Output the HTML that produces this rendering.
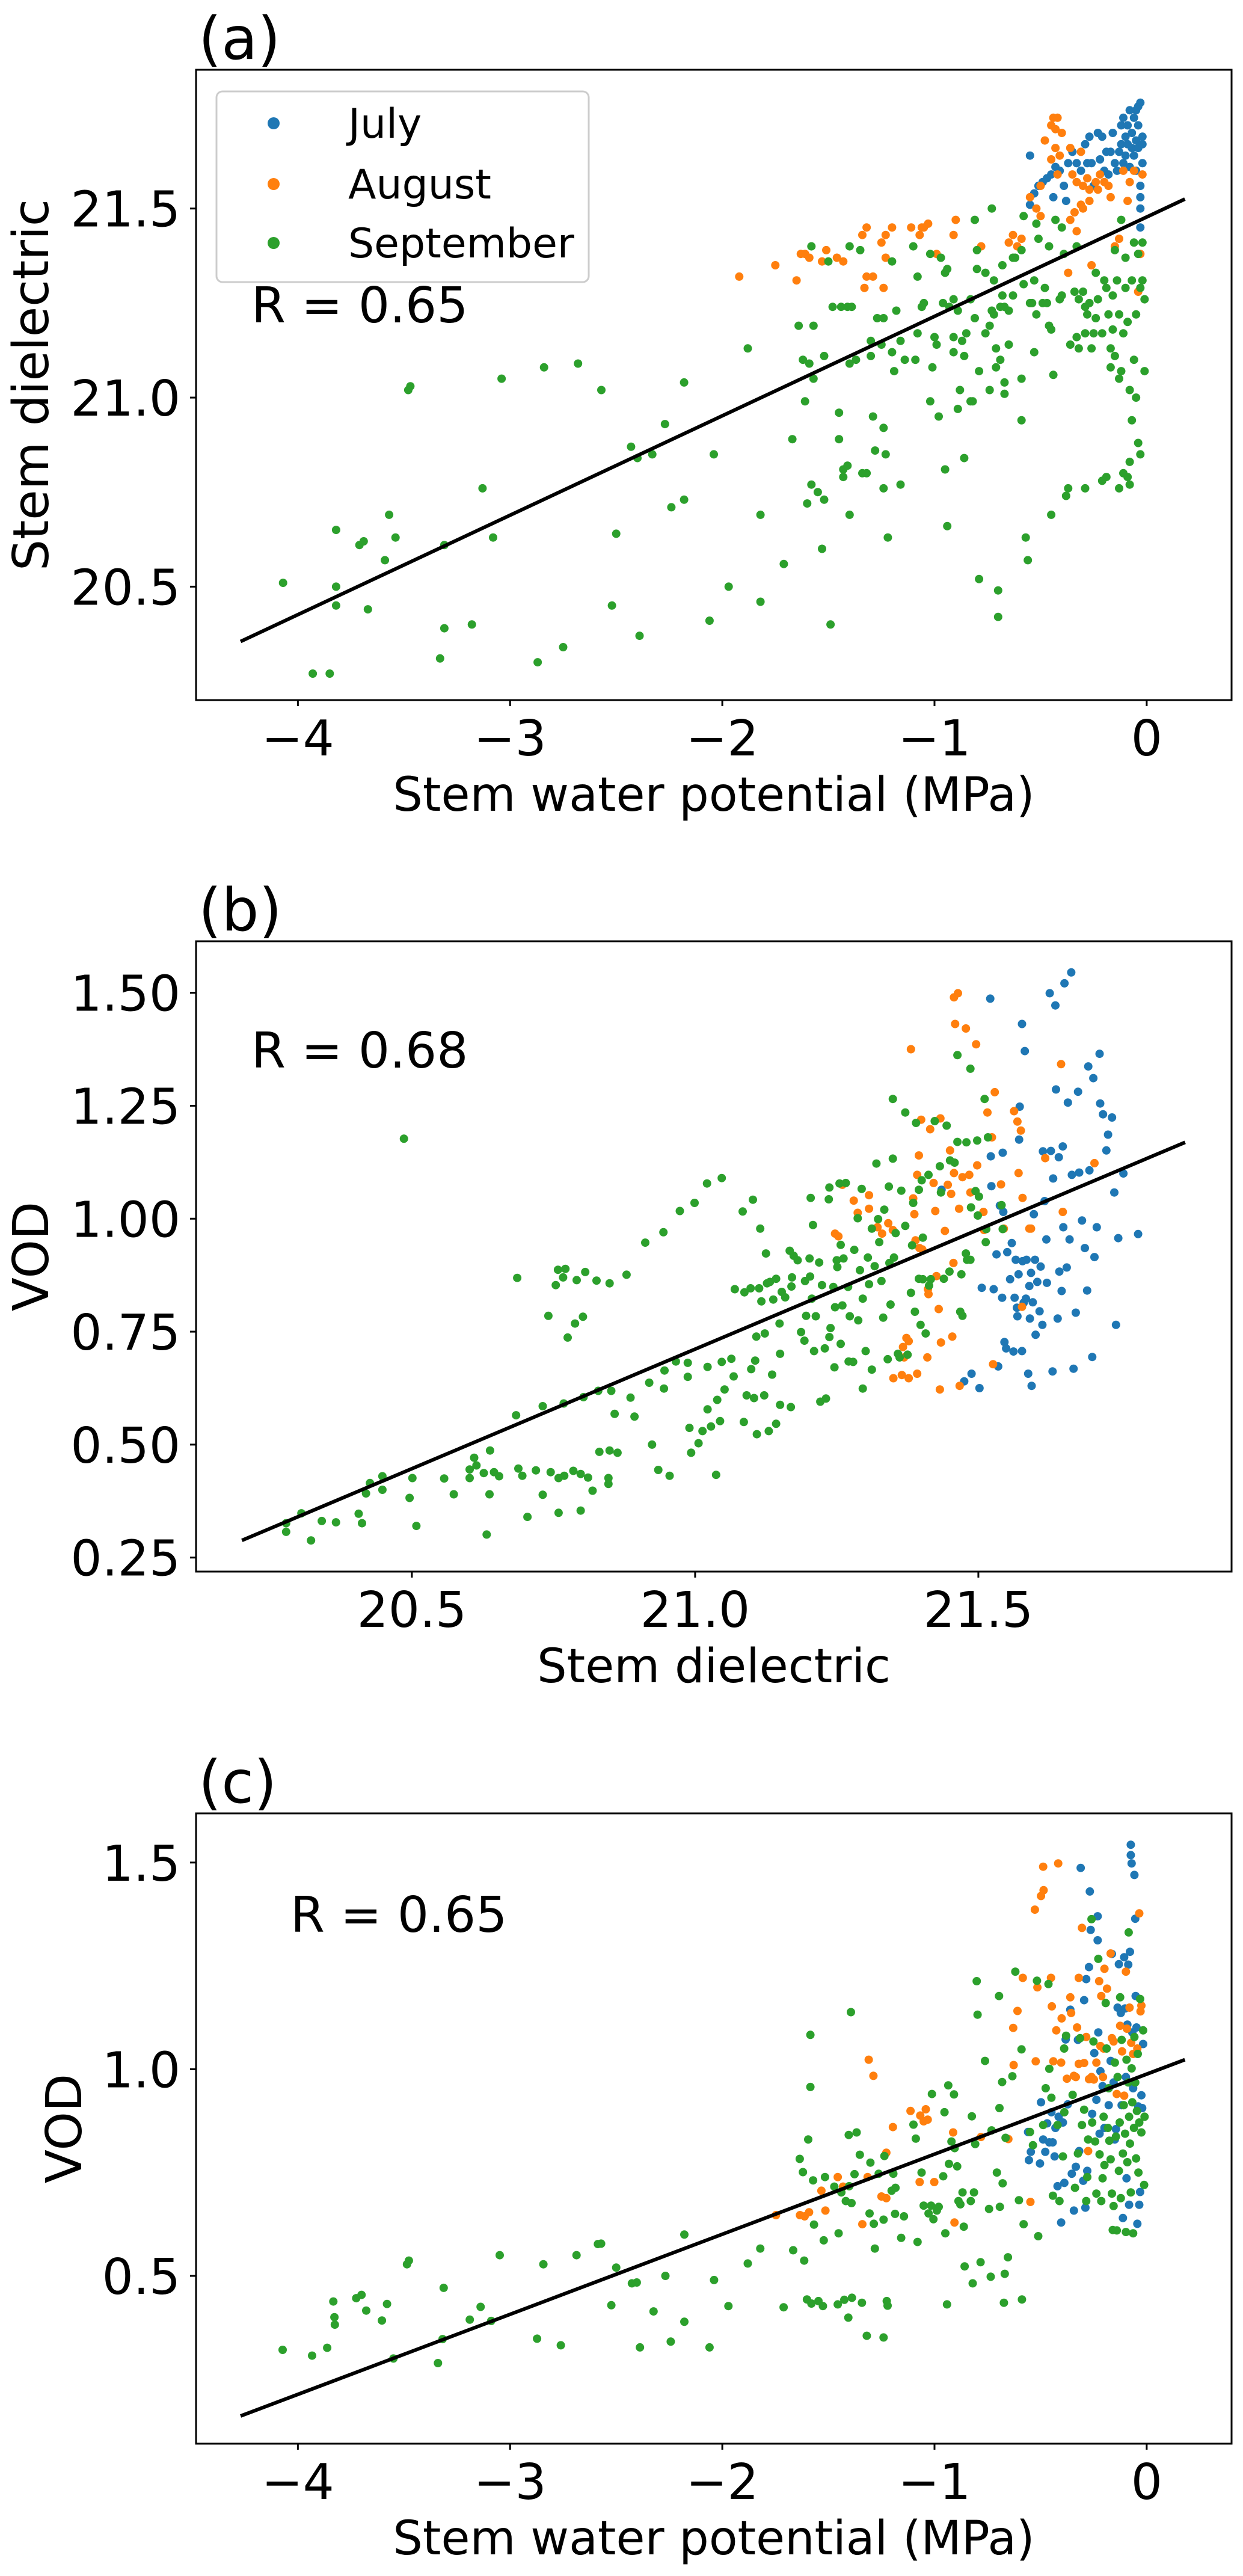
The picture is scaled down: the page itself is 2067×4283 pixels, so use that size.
<!DOCTYPE html>
<html><head><meta charset="utf-8"><style>
html,body{margin:0;padding:0;background:#fff;}
svg{display:block;font-family:"DejaVu Sans","Liberation Sans",sans-serif;}
</style></head><body>
<svg id="fig" width="2067" height="4283" viewBox="0 0 2067 4283" xmlns="http://www.w3.org/2000/svg">
<rect width="2067" height="4283" fill="#fff"/>
</svg>
<script>
// ---------- Panel (a): Stem water potential vs stem dielectric ----------
const aJulyX=[-0.55,-0.55,-0.53,-0.51,-0.49,-0.47,-0.45,-0.44,-0.43,-0.41,-0.39,-0.38,-0.37,-0.35,-0.33,-0.31,-0.29,-0.28,-0.27,-0.26,-0.25,-0.23,-0.22,-0.21,-0.20,-0.19,-0.18,-0.17,-0.16,-0.15,-0.14,-0.13,-0.12,-0.12,-0.11,-0.11,-0.10,-0.10,-0.09,-0.09,-0.08,-0.08,-0.07,-0.07,-0.06,-0.06,-0.05,-0.05,-0.05,-0.04,-0.04,-0.04,-0.03,-0.03,-0.03,-0.03,-0.02,-0.02,-0.02,-0.03];
const aJulyY=[21.64,21.51,21.54,21.56,21.57,21.58,21.59,21.53,21.61,21.60,21.56,21.52,21.62,21.65,21.62,21.60,21.67,21.62,21.69,21.62,21.56,21.70,21.63,21.69,21.60,21.65,21.59,21.65,21.70,21.62,21.60,21.65,21.72,21.67,21.62,21.74,21.69,21.64,21.72,21.67,21.76,21.61,21.70,21.66,21.74,21.64,21.76,21.68,21.60,21.72,21.66,21.77,21.50,21.56,21.53,21.78,21.69,21.67,21.62,21.45];
const aAugX=[-1.92,-1.75,-1.65,-1.63,-1.61,-1.59,-1.53,-1.51,-1.46,-1.43,-1.34,-1.33,-1.32,-1.32,-1.29,-1.25,-1.24,-1.23,-1.23,-1.20,-1.11,-1.07,-1.06,-1.05,-1.03,-0.99,-0.91,-0.90,-0.78,-0.65,-0.63,-0.61,-0.59,-0.55,-0.52,-0.50,-0.50,-0.48,-0.45,-0.45,-0.44,-0.43,-0.43,-0.42,-0.42,-0.40,-0.41,-0.37,-0.36,-0.36,-0.35,-0.34,-0.33,-0.33,-0.31,-0.31,-0.30,-0.30,-0.28,-0.27,-0.27,-0.26,-0.24,-0.23,-0.22,-0.20,-0.18,-0.17,-0.15,-0.13,-0.11,-0.09,-0.08,-0.06,-0.04,-0.03,-0.02];
const aAugY=[21.32,21.35,21.31,21.38,21.38,21.37,21.36,21.39,21.37,21.36,21.43,21.29,21.45,21.32,21.32,21.41,21.29,21.43,21.37,21.45,21.45,21.43,21.45,21.45,21.46,21.38,21.43,21.47,21.40,21.41,21.43,21.40,21.42,21.53,21.50,21.48,21.56,21.68,21.63,21.72,21.74,21.71,21.66,21.74,21.59,21.70,21.64,21.33,21.66,21.47,21.59,21.49,21.57,21.44,21.51,21.65,21.56,21.50,21.58,21.55,21.52,21.35,21.57,21.55,21.59,21.57,21.56,21.53,21.40,21.42,21.60,21.52,21.57,21.60,21.28,21.38,21.59];
const aSepX=[-4.07,-3.93,-3.85,-3.82,-3.82,-3.82,-3.71,-3.69,-3.67,-3.59,-3.57,-3.54,-3.48,-3.47,-3.33,-3.31,-3.31,-3.18,-3.13,-3.08,-3.04,-2.87,-2.84,-2.75,-2.68,-2.57,-2.52,-2.50,-2.43,-2.40,-2.39,-2.33,-2.27,-2.24,-2.18,-2.18,-2.06,-2.04,-1.97,-1.88,-1.82,-1.82,-1.71,-1.67,-1.64,-1.62,-1.61,-1.60,-1.59,-1.58,-1.58,-1.57,-1.57,-1.55,-1.53,-1.52,-1.52,-1.50,-1.49,-1.48,-1.45,-1.45,-1.44,-1.43,-1.43,-1.41,-1.41,-1.40,-1.40,-1.40,-1.39,-1.37,-1.35,-1.34,-1.32,-1.30,-1.30,-1.29,-1.28,-1.27,-1.25,-1.24,-1.24,-1.24,-1.23,-1.22,-1.20,-1.20,-1.19,-1.18,-1.16,-1.16,-1.14,-1.10,-1.09,-1.08,-1.08,-1.06,-1.05,-1.02,-1.02,-1.01,-1.00,-0.99,-0.98,-0.97,-0.96,-0.95,-0.95,-0.94,-0.94,-0.93,-0.91,-0.91,-0.91,-0.89,-0.89,-0.88,-0.87,-0.86,-0.86,-0.85,-0.83,-0.83,-0.82,-0.81,-0.81,-0.80,-0.80,-0.79,-0.79,-0.76,-0.76,-0.74,-0.74,-0.73,-0.73,-0.72,-0.72,-0.71,-0.71,-0.70,-0.70,-0.69,-0.69,-0.68,-0.68,-0.67,-0.67,-0.67,-0.65,-0.65,-0.63,-0.63,-0.62,-0.59,-0.59,-0.59,-0.58,-0.58,-0.57,-0.56,-0.55,-0.54,-0.53,-0.53,-0.52,-0.52,-0.51,-0.49,-0.48,-0.47,-0.46,-0.46,-0.45,-0.45,-0.44,-0.43,-0.41,-0.40,-0.40,-0.39,-0.38,-0.37,-0.36,-0.34,-0.33,-0.33,-0.32,-0.32,-0.30,-0.29,-0.29,-0.29,-0.28,-0.27,-0.26,-0.25,-0.24,-0.24,-0.23,-0.21,-0.21,-0.20,-0.19,-0.19,-0.18,-0.17,-0.17,-0.16,-0.16,-0.15,-0.15,-0.14,-0.13,-0.13,-0.13,-0.12,-0.12,-0.11,-0.11,-0.10,-0.10,-0.09,-0.09,-0.08,-0.08,-0.08,-0.07,-0.07,-0.06,-0.06,-0.05,-0.05,-0.04,-0.04,-0.03,-0.03,-0.02,-0.02,-0.01,-0.01];
const aSepY=[20.51,20.27,20.27,20.65,20.50,20.45,20.61,20.62,20.44,20.57,20.69,20.63,21.02,21.03,20.31,20.39,20.61,20.40,20.76,20.63,21.05,20.30,21.08,20.34,21.09,21.02,20.45,20.64,20.87,20.84,20.37,20.85,20.93,20.71,21.04,20.73,20.41,20.85,20.50,21.13,20.46,20.69,20.56,20.89,21.19,21.10,20.99,20.72,21.09,21.40,20.77,21.19,21.05,20.75,20.60,20.73,21.11,21.36,20.40,21.24,20.96,20.89,21.24,20.81,20.79,21.24,20.82,21.09,21.40,20.69,21.24,21.10,21.39,20.80,20.80,21.15,21.11,20.95,20.86,21.21,21.14,20.76,20.92,21.21,20.85,20.63,21.36,21.12,21.07,21.23,21.15,20.77,21.10,21.40,21.10,21.32,21.17,21.24,21.25,20.99,21.38,21.08,21.16,21.14,20.95,21.37,21.25,21.33,20.81,20.66,21.34,21.24,21.16,21.26,21.12,21.23,20.97,21.02,21.15,20.84,21.11,21.17,20.99,21.26,20.99,21.21,21.47,21.39,21.34,20.52,21.07,21.33,21.17,21.19,21.02,21.50,21.23,21.22,21.31,21.13,21.08,20.49,20.42,21.10,21.24,21.35,21.27,21.04,21.01,21.24,21.14,21.23,21.37,21.27,21.37,21.05,20.94,21.39,21.48,21.30,20.63,20.57,21.25,21.25,21.31,21.12,21.46,21.22,21.42,21.25,21.29,21.25,21.19,21.40,20.69,21.18,21.06,21.47,21.26,21.27,21.45,21.38,20.74,20.76,21.14,21.28,21.16,21.40,21.26,21.13,21.28,21.24,20.76,21.17,21.22,21.25,21.13,21.17,21.21,21.33,21.26,21.17,20.78,21.31,20.79,21.29,21.22,21.08,21.13,21.27,21.18,21.39,21.11,21.31,20.76,21.05,21.22,21.47,21.07,20.80,21.17,21.29,21.37,20.79,21.20,20.77,20.83,21.02,20.94,21.31,21.10,21.41,21.00,21.22,20.88,21.38,20.85,21.29,21.31,21.41,21.26,21.07];
const aLineX=[-4.27,0.18];
const aLineY=[20.355,21.525];
const aXTicks=[-4,-3,-2,-1,0];
const aYTicks=[20.5,21.0,21.5];

// ---------- Panel (b): Stem dielectric vs VOD ----------
const bJulyX=[21.435,21.475,21.488,21.502,21.506,21.521,21.522,21.523,21.527,21.532,21.535,21.538,21.542,21.543,21.544,21.546,21.549,21.551,21.556,21.559,21.562,21.564,21.566,21.568,21.569,21.571,21.572,21.573,21.577,21.577,21.578,21.580,21.582,21.584,21.585,21.588,21.590,21.591,21.593,21.594,21.596,21.598,21.600,21.601,21.604,21.608,21.610,21.613,21.614,21.617,21.620,21.621,21.626,21.628,21.631,21.632,21.636,21.637,21.640,21.642,21.643,21.647,21.649,21.650,21.652,21.656,21.658,21.661,21.664,21.665,21.668,21.672,21.676,21.678,21.683,21.688,21.692,21.694,21.696,21.701,21.703,21.705,21.709,21.714,21.715,21.720,21.726,21.729,21.736,21.740,21.743,21.747,21.756,21.782];
const bJulyY=[1.064,0.640,0.657,0.625,0.847,1.487,1.138,1.072,0.844,0.921,0.673,1.029,0.825,1.146,1.015,0.727,0.713,0.926,0.866,0.946,0.706,0.825,0.909,0.803,0.784,0.877,1.175,1.248,1.431,0.707,0.906,0.814,1.371,0.823,0.909,0.657,0.851,0.779,0.880,0.630,0.815,1.010,0.909,0.743,0.860,0.795,0.894,0.765,1.149,1.039,0.954,0.858,1.499,1.150,0.662,1.089,1.472,1.286,0.779,1.136,0.883,0.840,1.160,0.981,1.521,0.892,1.257,0.954,1.545,1.097,0.668,0.792,1.281,1.102,0.996,0.935,0.841,1.337,1.107,0.694,1.311,0.915,0.981,1.365,1.255,1.231,1.151,1.186,1.224,1.058,0.765,0.957,1.100,0.966];
const bAugX=[21.247,21.253,21.260,21.280,21.287,21.307,21.307,21.322,21.330,21.341,21.349,21.350,21.365,21.367,21.369,21.373,21.377,21.377,21.381,21.385,21.387,21.389,21.392,21.392,21.395,21.396,21.399,21.401,21.410,21.411,21.412,21.415,21.421,21.424,21.426,21.430,21.432,21.433,21.434,21.441,21.446,21.450,21.452,21.454,21.456,21.457,21.457,21.459,21.464,21.466,21.467,21.472,21.478,21.484,21.486,21.496,21.498,21.509,21.510,21.516,21.524,21.529,21.526,21.540,21.545,21.563,21.569,21.571,21.575,21.577,21.578,21.590,21.593,21.618,21.646,21.649,21.705];
const bAugY=[0.967,0.961,1.075,1.040,1.013,1.022,1.052,0.981,0.967,0.990,0.975,0.647,0.654,0.716,0.693,0.736,0.647,0.729,1.375,1.045,1.010,0.952,0.657,1.097,1.140,0.935,1.219,0.932,0.693,0.844,0.833,1.198,1.079,1.017,0.873,0.800,0.622,1.222,0.726,0.973,1.075,1.151,1.055,0.739,0.902,1.490,1.101,1.431,1.499,1.022,0.630,1.092,1.421,1.097,1.058,1.386,1.118,1.015,0.975,1.235,1.180,1.280,0.678,1.076,0.978,1.238,1.215,1.101,1.195,0.805,1.046,0.978,0.978,1.134,1.342,1.015,1.123];
const bSepX=[20.278,20.278,20.305,20.322,20.341,20.366,20.406,20.412,20.419,20.426,20.448,20.448,20.486,20.496,20.501,20.508,20.557,20.574,20.602,20.602,20.610,20.614,20.627,20.632,20.637,20.638,20.645,20.654,20.684,20.686,20.688,20.695,20.704,20.719,20.731,20.731,20.741,20.745,20.754,20.758,20.759,20.759,20.767,20.768,20.769,20.771,20.775,20.785,20.788,20.791,20.798,20.798,20.802,20.803,20.806,20.811,20.819,20.831,20.829,20.826,20.852,20.849,20.847,20.847,20.863,20.858,20.849,20.879,20.886,20.893,20.912,20.919,20.924,20.935,20.944,20.945,20.946,20.955,20.966,20.973,20.987,20.987,20.990,20.993,20.999,21.006,21.013,21.021,21.022,21.022,21.028,21.037,21.039,21.044,21.047,21.047,21.052,21.064,21.068,21.070,21.084,21.086,21.087,21.091,21.098,21.099,21.102,21.104,21.106,21.108,21.109,21.113,21.115,21.117,21.122,21.123,21.125,21.127,21.130,21.132,21.136,21.138,21.143,21.143,21.149,21.150,21.150,21.153,21.159,21.167,21.169,21.170,21.171,21.174,21.181,21.187,21.193,21.194,21.196,21.202,21.203,21.204,21.206,21.208,21.210,21.213,21.219,21.221,21.224,21.229,21.231,21.236,21.237,21.237,21.239,21.244,21.246,21.247,21.250,21.251,21.255,21.257,21.257,21.260,21.262,21.266,21.270,21.271,21.273,21.279,21.281,21.287,21.288,21.291,21.294,21.296,21.296,21.301,21.305,21.307,21.312,21.312,21.317,21.320,21.323,21.325,21.329,21.332,21.334,21.340,21.342,21.343,21.345,21.349,21.349,21.351,21.354,21.358,21.361,21.364,21.371,21.371,21.375,21.381,21.383,21.385,21.388,21.390,21.395,21.395,21.398,21.400,21.402,21.402,21.407,21.412,21.413,21.416,21.423,21.432,21.434,21.439,21.444,21.449,21.450,21.458,21.463,21.463,21.468,21.470,21.472,21.478,21.479,21.480,21.486,21.486,21.487,21.495,21.498,21.499,21.501,21.511,21.513,21.514,21.517,21.541,21.543];
const bSepY=[0.326,0.307,0.348,0.288,0.331,0.328,0.347,0.326,0.392,0.415,0.430,0.400,1.177,0.382,0.426,0.320,0.425,0.390,0.426,0.445,0.471,0.454,0.437,0.301,0.390,0.487,0.439,0.430,0.565,0.869,0.447,0.431,0.340,0.443,0.585,0.389,0.785,0.439,0.853,0.887,0.349,0.426,0.870,0.591,0.431,0.889,0.737,0.442,0.768,0.864,0.435,0.354,0.783,0.605,0.882,0.427,0.398,0.484,0.619,0.863,0.619,0.487,0.426,0.413,0.482,0.568,0.857,0.876,0.604,0.562,0.947,0.637,0.500,0.444,0.970,0.624,0.664,0.431,0.684,1.017,0.650,0.681,0.537,0.482,1.035,0.503,0.530,1.078,0.578,0.672,0.540,0.433,0.599,0.552,1.090,0.683,0.622,0.690,0.651,0.844,1.016,0.550,0.837,0.609,0.846,0.667,1.042,0.603,0.686,0.739,0.523,0.846,0.978,0.817,0.609,0.746,0.923,0.857,0.530,0.860,0.655,0.821,0.546,0.867,0.768,0.701,0.588,0.838,0.826,0.929,0.583,0.850,0.870,0.918,0.908,0.749,0.730,0.862,0.785,0.912,0.872,1.046,0.823,0.986,0.707,0.784,0.903,0.595,0.853,0.713,0.602,1.043,1.069,0.738,0.758,0.849,0.671,0.804,0.908,0.893,1.078,0.942,0.723,0.808,0.912,1.079,0.849,0.684,0.784,0.683,0.931,1.001,0.775,0.886,1.066,0.823,0.624,0.707,0.914,0.855,0.978,0.666,0.895,1.122,0.999,0.948,0.862,0.781,1.020,0.689,1.071,0.902,0.810,1.265,1.133,0.914,0.968,0.701,0.693,1.062,0.984,1.235,0.699,0.836,0.941,1.035,0.794,1.212,1.064,0.867,0.765,1.085,0.958,0.866,0.746,1.097,0.852,0.866,1.216,1.116,1.058,0.867,1.206,0.883,1.129,1.124,1.362,1.170,0.794,0.877,0.785,0.923,1.169,0.909,1.332,0.909,1.025,1.061,1.173,1.007,1.049,1.265,0.948,0.977,1.180,1.030,0.977];
const bLineX=[20.2,21.865];
const bLineY=[0.288,1.169];
const bXTicks=[20.5,21.0,21.5];
const bYTicks=[0.25,0.50,0.75,1.00,1.25,1.50];

// ---------- Panel (c): Stem water potential vs VOD ----------
const cJulyX=[-0.559,-0.555,-0.546,-0.503,-0.498,-0.488,-0.478,-0.469,-0.459,-0.449,-0.443,-0.434,-0.430,-0.420,-0.415,-0.403,-0.395,-0.388,-0.382,-0.372,-0.360,-0.353,-0.343,-0.334,-0.324,-0.318,-0.311,-0.299,-0.295,-0.289,-0.285,-0.280,-0.272,-0.268,-0.264,-0.257,-0.247,-0.237,-0.231,-0.231,-0.228,-0.222,-0.218,-0.208,-0.199,-0.179,-0.170,-0.164,-0.156,-0.150,-0.145,-0.137,-0.131,-0.122,-0.118,-0.112,-0.106,-0.102,-0.098,-0.095,-0.091,-0.087,-0.083,-0.079,-0.075,-0.075,-0.071,-0.068,-0.064,-0.058,-0.054,-0.052,-0.048,-0.044,-0.040,-0.035,-0.031,-0.025,-0.021,-0.017];
const cJulyY=[0.848,0.780,0.800,0.772,0.920,0.830,0.800,0.869,0.823,0.896,0.823,0.789,0.858,0.717,0.885,0.629,0.871,0.725,1.072,0.915,1.144,0.747,0.658,0.764,1.071,0.802,1.487,0.730,1.167,0.665,1.218,0.754,1.247,1.430,1.337,0.892,1.039,0.926,1.312,1.370,1.089,0.844,0.995,0.959,0.858,0.913,1.020,1.279,0.968,0.830,0.855,1.149,1.254,1.136,0.913,0.640,1.271,1.147,0.981,0.736,1.108,1.253,0.672,1.284,1.543,1.518,1.498,1.089,0.954,1.470,1.364,1.177,1.101,0.626,0.910,0.672,0.703,0.937,0.906,1.061];
const cAugX=[-1.747,-1.634,-1.612,-1.591,-1.533,-1.514,-1.456,-1.431,-1.340,-1.315,-1.310,-1.288,-1.250,-1.227,-1.227,-1.196,-1.113,-1.070,-1.067,-1.051,-1.041,-1.032,-1.001,-0.912,-0.906,-0.781,-0.652,-0.629,-0.627,-0.609,-0.584,-0.548,-0.523,-0.515,-0.527,-0.498,-0.486,-0.488,-0.451,-0.447,-0.440,-0.426,-0.417,-0.401,-0.403,-0.376,-0.360,-0.356,-0.343,-0.334,-0.328,-0.320,-0.320,-0.305,-0.295,-0.285,-0.276,-0.272,-0.260,-0.249,-0.237,-0.224,-0.218,-0.214,-0.206,-0.203,-0.199,-0.187,-0.170,-0.164,-0.156,-0.141,-0.125,-0.116,-0.106,-0.098,-0.093,-0.081,-0.073,-0.064,-0.044,-0.035,-0.029,-0.025];
const cAugY=[0.647,0.647,0.644,0.654,0.706,0.658,0.739,0.716,0.625,0.739,1.023,0.984,0.692,0.688,0.798,0.860,0.899,0.727,0.888,0.874,0.903,0.878,0.727,0.847,0.629,0.836,0.831,1.100,1.010,1.141,1.221,0.679,1.019,1.198,1.386,1.419,1.433,1.490,1.221,1.152,1.019,1.094,1.498,1.123,1.016,0.977,1.174,1.136,0.984,0.981,1.101,1.221,1.013,1.342,1.015,1.078,0.802,0.976,0.981,0.975,1.016,1.213,1.056,1.177,0.981,1.050,1.243,1.195,1.280,1.075,1.067,0.940,1.105,1.043,0.936,1.236,1.098,1.149,1.064,1.037,1.050,1.377,1.140,1.154];
const cSepX=[-4.072,-3.933,-3.862,-3.833,-3.828,-3.826,-3.725,-3.700,-3.678,-3.604,-3.580,-3.550,-3.486,-3.477,-3.340,-3.318,-3.313,-3.190,-3.139,-3.089,-3.049,-2.873,-2.843,-2.761,-2.687,-2.586,-2.571,-2.523,-2.500,-2.426,-2.403,-2.388,-2.324,-2.268,-2.243,-2.179,-2.179,-2.060,-2.039,-1.971,-1.880,-1.821,-1.711,-1.666,-1.635,-1.620,-1.614,-1.601,-1.595,-1.585,-1.585,-1.580,-1.572,-1.568,-1.547,-1.526,-1.522,-1.516,-1.472,-1.456,-1.452,-1.439,-1.425,-1.418,-1.406,-1.404,-1.402,-1.394,-1.391,-1.389,-1.377,-1.367,-1.352,-1.342,-1.319,-1.306,-1.302,-1.286,-1.281,-1.263,-1.240,-1.240,-1.236,-1.225,-1.221,-1.202,-1.194,-1.186,-1.184,-1.157,-1.144,-1.099,-1.088,-1.080,-1.061,-1.051,-1.028,-1.016,-1.012,-1.005,-0.989,-0.980,-0.959,-0.953,-0.949,-0.941,-0.935,-0.932,-0.920,-0.908,-0.905,-0.893,-0.887,-0.878,-0.868,-0.862,-0.858,-0.829,-0.824,-0.820,-0.814,-0.808,-0.801,-0.797,-0.783,-0.762,-0.743,-0.735,-0.731,-0.706,-0.696,-0.694,-0.692,-0.681,-0.679,-0.673,-0.669,-0.665,-0.654,-0.633,-0.619,-0.602,-0.590,-0.588,-0.580,-0.550,-0.536,-0.517,-0.511,-0.488,-0.476,-0.463,-0.459,-0.449,-0.442,-0.420,-0.411,-0.395,-0.389,-0.388,-0.380,-0.349,-0.338,-0.324,-0.314,-0.305,-0.295,-0.285,-0.280,-0.276,-0.260,-0.257,-0.251,-0.243,-0.237,-0.228,-0.222,-0.214,-0.208,-0.203,-0.199,-0.193,-0.189,-0.183,-0.179,-0.176,-0.170,-0.164,-0.160,-0.156,-0.150,-0.145,-0.141,-0.137,-0.131,-0.127,-0.125,-0.122,-0.118,-0.112,-0.108,-0.102,-0.098,-0.095,-0.091,-0.087,-0.085,-0.083,-0.079,-0.075,-0.071,-0.068,-0.064,-0.060,-0.058,-0.054,-0.050,-0.046,-0.042,-0.039,-0.035,-0.031,-0.025,-0.017,-0.012,-0.010];
const cSepY=[0.321,0.307,0.326,0.438,0.400,0.382,0.446,0.454,0.416,0.392,0.432,0.300,0.528,0.537,0.289,0.347,0.471,0.394,0.425,0.391,0.550,0.348,0.528,0.332,0.550,0.577,0.578,0.429,0.520,0.482,0.484,0.327,0.414,0.500,0.341,0.600,0.389,0.327,0.490,0.427,0.530,0.566,0.424,0.562,0.783,0.751,0.537,0.443,0.830,1.083,0.957,0.433,0.731,0.624,0.439,0.427,0.586,0.739,0.716,0.431,0.603,0.702,0.442,0.681,0.399,0.841,0.717,1.138,0.676,0.447,0.746,0.847,0.793,0.435,0.355,0.651,0.774,0.626,0.566,0.747,0.351,0.636,0.790,0.439,0.428,0.706,0.747,0.650,0.713,0.592,0.644,0.866,0.832,0.582,0.750,0.670,0.651,0.670,0.940,0.637,0.658,0.667,0.741,0.896,0.603,0.431,0.961,0.771,0.825,0.939,0.809,0.765,0.681,0.673,0.702,0.619,0.523,0.681,0.886,0.482,0.702,0.819,1.213,1.132,0.533,1.020,0.662,0.498,0.852,0.750,1.177,0.906,0.667,0.969,0.724,0.435,0.505,0.834,0.545,0.983,1.236,0.683,1.048,0.443,0.625,0.848,0.816,1.214,0.596,0.865,0.954,1.206,1.001,0.931,0.694,0.865,0.681,0.789,1.050,0.896,1.081,0.938,0.713,0.796,1.075,0.865,0.902,0.681,0.739,0.830,1.363,0.871,1.067,0.825,0.699,1.267,0.794,0.681,0.736,0.885,0.768,1.160,1.050,0.858,0.954,0.827,0.782,0.699,0.611,0.669,1.016,0.837,0.610,0.981,0.754,0.871,1.174,0.688,1.071,0.796,0.913,0.844,0.606,1.023,0.775,0.968,1.331,0.885,0.820,0.702,1.002,0.920,0.603,0.858,1.078,0.968,0.784,0.899,1.037,0.750,0.871,1.170,0.847,1.094,0.720,0.885];
const cLineX=[-4.27,0.18];
const cLineY=[0.161,1.023];
const cXTicks=[-4,-3,-2,-1,0];
const cYTicks=[0.5,1.0,1.5];

const COL={july:'#1f77b4',aug:'#ff7f0e',sep:'#2ca02c'};
const NS='http://www.w3.org/2000/svg';
const svg=document.getElementById('fig');
function mk(tag,attrs,parent){const e=document.createElementNS(NS,tag);for(const k in attrs)e.setAttribute(k,attrs[k]);(parent||svg).appendChild(e);return e;}
function fmt(v,d){return (v<0?'\u2212':'')+Math.abs(v).toFixed(d);}

function panel(cfg){
  const g=mk('g',{});
  
  
  const L=326,R=2048,T=cfg.top,B=cfg.top+1048;
  const sx=v=>L+(v-cfg.xlim[0])/(cfg.xlim[1]-cfg.xlim[0])*(R-L);
  const sy=v=>B-(v-cfg.ylim[0])/(cfg.ylim[1]-cfg.ylim[0])*(B-T);
  const series=[[cfg.jx,cfg.jy,COL.july,'july'],[cfg.ax,cfg.ay,COL.aug,'august'],[cfg.sx_,cfg.sy_,COL.sep,'september']];
  series.forEach(s=>{
    const sg=mk('g',{fill:s[2]},g);
    
    
    for(let i=0;i<s[0].length;i++){
      const c=mk('circle',{cx:sx(s[0][i]).toFixed(1),cy:sy(s[1][i]).toFixed(1),r:7},sg);
      
      
    }
  });
  const ln=mk('line',{x1:sx(cfg.lx[0]),y1:sy(cfg.ly[0]),x2:sx(cfg.lx[1]),y2:sy(cfg.ly[1]),stroke:'#000','stroke-width':6},g);
  
  
  const fr=mk('rect',{x:L,y:T,width:R-L,height:B-T,fill:'none',stroke:'#000','stroke-width':3},g);
  
  
  cfg.xt.forEach(v=>{
    const x=sx(v);
    mk('line',{x1:x,y1:B,x2:x,y2:B+10,stroke:'#000','stroke-width':3},g);
    const t=mk('text',{x:x,y:B+92,'font-size':82,'text-anchor':'middle'},g);
    t.textContent=cfg.xd===0&&v===0?'0':fmt(v,cfg.xd);
    
    
  });
  cfg.yt.forEach(v=>{
    const y=sy(v);
    mk('line',{x1:L-10,y1:y,x2:L,y2:y,stroke:'#000','stroke-width':3},g);
    const t=mk('text',{x:300,y:y+30,'font-size':82,'text-anchor':'end'},g);
    t.textContent=fmt(v,cfg.yd);
    
    
  });
  const xl=mk('text',{x:(L+R)/2,y:B+184,'font-size':78,'text-anchor':'middle'},g);
  xl.textContent=cfg.xlabel;
  
  
  const yl=mk('text',{x:0,y:0,'font-size':82,'text-anchor':'middle',transform:`translate(${cfg.ylx+29},${(T+B)/2}) rotate(-90)`},g);
  yl.textContent=cfg.ylabel;
  
  
  const tt=mk('text',{x:330,y:T-18,'font-size':98},g);
  tt.textContent=cfg.title;
  
  
  const rt=mk('text',{x:cfg.rx,y:cfg.ry,'font-size':82},g);
  rt.textContent=cfg.rtext;
  
  
}

panel({name:'panel-a',top:116,xlim:[-4.48,0.40],ylim:[20.2,21.867],jx:aJulyX,jy:aJulyY,ax:aAugX,ay:aAugY,sx_:aSepX,sy_:aSepY,lx:aLineX,ly:aLineY,xt:aXTicks,yt:aYTicks,xd:0,yd:1,xlabel:'Stem water potential (MPa)',ylabel:'Stem dielectric',ylx:51,title:'(a)',rtext:'R = 0.65',rx:418,ry:536});
panel({name:'panel-b',top:1565,xlim:[20.119,21.947],ylim:[0.219,1.614],jx:bJulyX,jy:bJulyY,ax:bAugX,ay:bAugY,sx_:bSepX,sy_:bSepY,lx:bLineX,ly:bLineY,xt:bXTicks,yt:bYTicks,xd:1,yd:2,xlabel:'Stem dielectric',ylabel:'VOD',ylx:51,title:'(b)',rtext:'R = 0.68',rx:418,ry:1775});
panel({name:'panel-c',top:3015,xlim:[-4.48,0.40],ylim:[0.094,1.619],jx:cJulyX,jy:cJulyY,ax:cAugX,ay:cAugY,sx_:cSepX,sy_:cSepY,lx:cLineX,ly:cLineY,xt:cXTicks,yt:cYTicks,xd:0,yd:1,xlabel:'Stem water potential (MPa)',ylabel:'VOD',ylx:106,title:'(c)',rtext:'R = 0.65',rx:483,ry:3212});

// legend (panel a)
const lg=mk('g',{});


mk('rect',{x:360,y:152,width:619,height:317,rx:10,fill:'#fff','fill-opacity':0.8,stroke:'#cccccc','stroke-width':3},lg);
const legNames=['July','August','September'];
const legCols=[COL.july,COL.aug,COL.sep];
const legY=[205,306,404];
for(let i=0;i<3;i++){
  const e=mk('g',{},lg);
  
  
  mk('circle',{cx:455,cy:legY[i],r:10,fill:legCols[i]},e);
  const t=mk('text',{x:579,y:legY[i]+24,'font-size':68},e);
  t.textContent=legNames[i];
}
</script>
</body></html>
